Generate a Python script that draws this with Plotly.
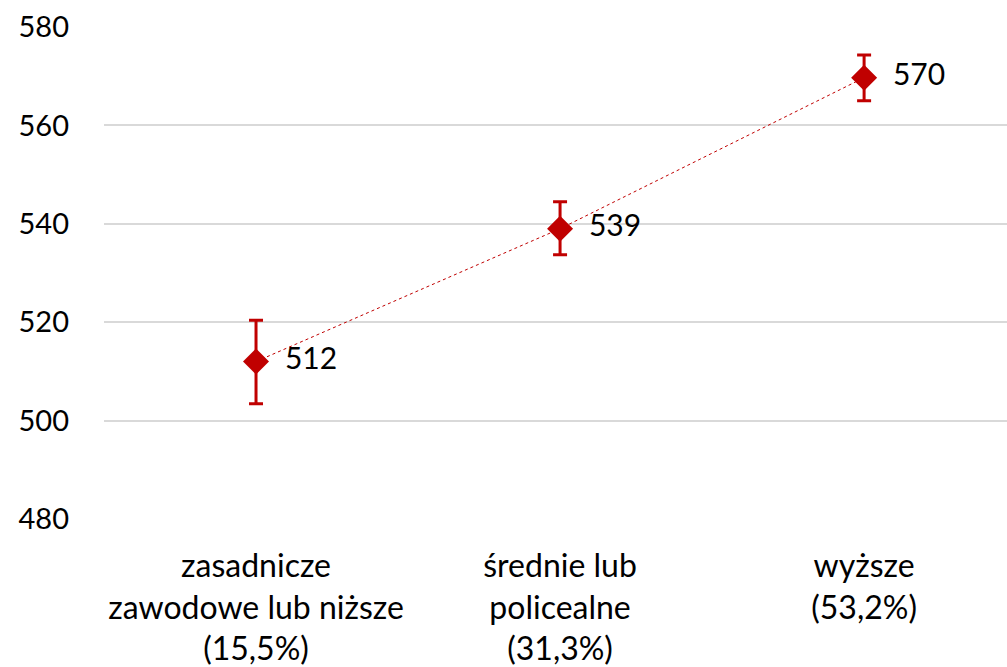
import plotly.graph_objects as go

categories = ["zasadnicze<br>zawodowe lub niższe<br>(15,5%)",
              "średnie lub<br>policealne<br>(31,3%)",
              "wyższe<br>(53,2%)"]
values = [512.0, 539.0, 569.7]
labels = ["512", "539", "570"]
err_plus = [8.4, 5.5, 4.6]
err_minus = [8.6, 5.3, 4.7]
y_ticks = [480, 500, 520, 540, 560, 580]

red = "#C00000"
font = "Lato, Carlito, Calibri, sans-serif"

x = list(range(len(categories)))

fig = go.Figure()
fig.add_trace(go.Scatter(
    x=x, y=values,
    mode="lines+markers+text",
    line=dict(color=red, width=1, dash="dot"),
    marker=dict(symbol="diamond", size=20, color=red),
    error_y=dict(type="data", symmetric=False, array=err_plus, arrayminus=err_minus,
                 color=red, thickness=3, width=7),
    text=["  " + t for t in labels],
    textposition="middle right",
    textfont=dict(family=font, size=30, color="black"),
    cliponaxis=False,
    showlegend=False,
))

fig.update_layout(
    width=1007, height=667,
    margin=dict(l=104, r=0, t=27, b=148, autoexpand=False),
    plot_bgcolor="white", paper_bgcolor="white",
    font=dict(family=font, size=29, color="black"),
)
fig.update_xaxes(
    tickvals=x, ticktext=categories, range=[-0.5, 2.47],
    showgrid=False, zeroline=False, showline=False, automargin=False,
    ticks="", ticklabelstandoff=25,
    tickfont=dict(family=font, size=32, color="black"),
)
fig.update_yaxes(
    range=[480, 580], tickvals=y_ticks, automargin=False,
    showgrid=True, gridcolor="#d9d9d9", gridwidth=2,
    zeroline=False, showline=False, ticks="",
    ticklabelstandoff=34,
    tickfont=dict(family=font, size=29, color="black"),
)

fig.write_html(
    "out.html",
    config={"displayModeBar": False},
    post_script="document.body.style.margin='0';document.body.style.overflow='hidden';",
)
